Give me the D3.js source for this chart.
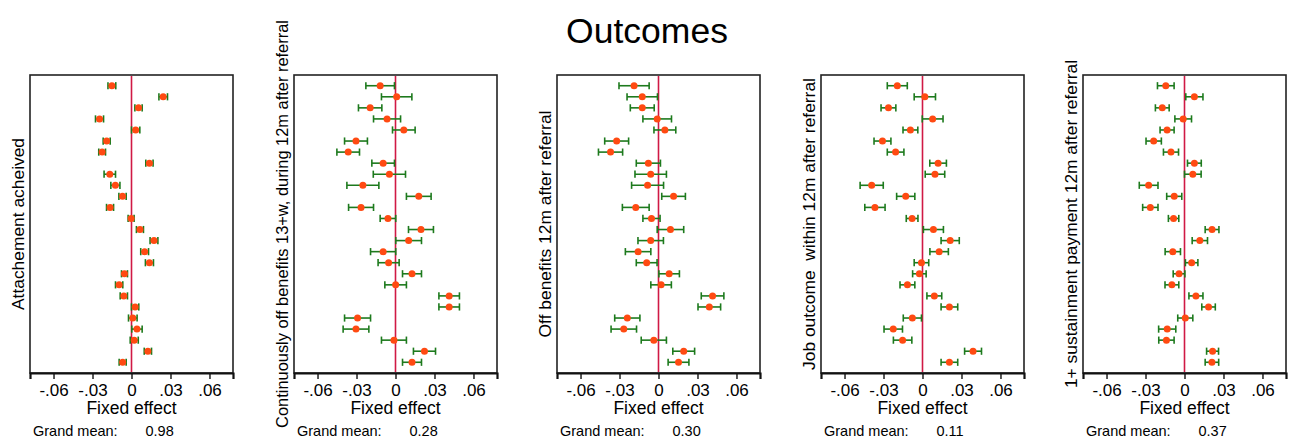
<!DOCTYPE html>
<html>
<head>
<meta charset="utf-8">
<script src="https://cdn.jsdelivr.net/npm/d3@7.9.0/dist/d3.min.js"></script>
<style>
  html, body { margin: 0; padding: 0; background: #fff; }
  svg { display: block; font-family: "Liberation Sans", Arial, sans-serif; }
</style>
</head>
<body>
<svg id="chart" width="1292" height="445"></svg>
<script>
// units in row order (top to bottom)
const units = d3.range(1, 27);

const outcomeTitles = [
  'Attachement acheived',
  'Continuously off benefits 13+w, during 12m after referral',
  'Off benefits 12m after referral',
  'Job outcome  within 12m after referral',
  '1+ sustainment payment 12m after referral'
];
const grandMeans = ['0.98', '0.28', '0.30', '0.11', '0.37'];
const xTicks = [-0.06, -0.03, 0, 0.03, 0.06];

// fixed effect estimates and CI half-widths, per outcome
const attachEst = [-0.0151, 0.0244, 0.0054, -0.0246, 0.0032, -0.0191, -0.0226, 0.0138, -0.0167, -0.0124, -0.0069, -0.0165, -0.0003,
  0.0065, 0.0173, 0.0101, 0.0138, -0.0054, -0.0095, -0.0059, 0.0028, 0.0010, 0.0042, 0.0021, 0.0126, -0.0068];
const attachHw = [0.0030, 0.0033, 0.0028, 0.0031, 0.0032, 0.0027, 0.0026, 0.0028, 0.0044, 0.0035, 0.0028, 0.0027, 0.0023,
  0.0027, 0.0030, 0.0030, 0.0031, 0.0023, 0.0028, 0.0028, 0.0028, 0.0033, 0.0040, 0.0031, 0.0028, 0.0027];

const contOffEst = [-0.0118, 0.0009, -0.0195, -0.0065, 0.0064, -0.0304, -0.0364, -0.0095, -0.0047, -0.0251, 0.0179, -0.0265, -0.0058,
  0.0196, 0.0101, -0.0095, -0.0053, 0.0127, 0.0001, 0.0413, 0.0413, -0.0292, -0.0304, -0.0012, 0.0223, 0.0127];
const contOffHw = [0.0110, 0.0117, 0.0090, 0.0104, 0.0087, 0.0088, 0.0087, 0.0087, 0.0124, 0.0123, 0.0095, 0.0096, 0.0060,
  0.0096, 0.0099, 0.0097, 0.0081, 0.0073, 0.0083, 0.0079, 0.0079, 0.0100, 0.0099, 0.0096, 0.0085, 0.0073];

const offBenEst = [-0.0188, -0.0125, -0.0125, -0.0010, 0.0049, -0.0322, -0.0369, -0.0078, -0.0060, -0.0084, 0.0116, -0.0175, -0.0054,
  0.0092, -0.0060, -0.0157, -0.0091, 0.0082, 0.0020, 0.0416, 0.0391, -0.0240, -0.0267, -0.0036, 0.0194, 0.0154];
const offBenHw = [0.0116, 0.0117, 0.0092, 0.0110, 0.0084, 0.0092, 0.0093, 0.0093, 0.0121, 0.0123, 0.0091, 0.0103, 0.0066,
  0.0102, 0.0098, 0.0098, 0.0080, 0.0079, 0.0079, 0.0087, 0.0087, 0.0097, 0.0098, 0.0097, 0.0084, 0.0080];

const jobEst = [-0.0194, 0.0018, -0.0262, 0.0078, -0.0093, -0.0308, -0.0207, 0.0120, 0.0096, -0.0391, -0.0129, -0.0366, -0.0080,
  0.0084, 0.0213, 0.0128, -0.0008, -0.0024, -0.0116, 0.0091, 0.0207, -0.0078, -0.0225, -0.0153, 0.0389, 0.0207];
const jobHw = [0.0077, 0.0082, 0.0057, 0.0080, 0.0057, 0.0065, 0.0064, 0.0064, 0.0075, 0.0089, 0.0070, 0.0078, 0.0045,
  0.0077, 0.0070, 0.0071, 0.0056, 0.0052, 0.0057, 0.0057, 0.0064, 0.0070, 0.0071, 0.0071, 0.0065, 0.0064];

const sustainEst = [-0.0144, 0.0076, -0.0171, -0.0010, -0.0134, -0.0237, -0.0104, 0.0076, 0.0064, -0.0276, -0.0079, -0.0263, -0.0084,
  0.0212, 0.0118, -0.0090, 0.0055, -0.0042, -0.0097, 0.0088, 0.0185, 0.0006, -0.0133, -0.0139, 0.0216, 0.0211];
const sustainHw = [0.0064, 0.0066, 0.0053, 0.0064, 0.0054, 0.0059, 0.0058, 0.0053, 0.0064, 0.0072, 0.0058, 0.0059, 0.0040,
  0.0053, 0.0059, 0.0059, 0.0048, 0.0045, 0.0053, 0.0054, 0.0052, 0.0058, 0.0066, 0.0059, 0.0046, 0.0052];

const estimates = [attachEst, contOffEst, offBenEst, jobEst, sustainEst];
const halfWidths = [attachHw, contOffHw, offBenHw, jobHw, sustainHw];

const svg = d3.select('#chart');
const boxTop = 75, boxBottom = 373, boxW = 203;
const panelLefts = [30, 294, 557, 821, 1083];

const fmtTick = (v) => v === 0 ? '0' : (v < 0 ? '-' : '') + d3.format('.2f')(Math.abs(v)).slice(1);

const y = d3.scalePoint()
  .domain(units)
  .range([boxTop, boxBottom])
  .padding(0.97);

svg.append('text')
  .attr('x', 647)
  .attr('y', 43)
  .attr('text-anchor', 'middle')
  .attr('font-size', 35.5)
  .attr('fill', '#000')
  .text('Outcomes');

outcomeTitles.forEach((title, i) => {
  const left = panelLefts[i];
  const x = d3.scaleLinear()
    .domain([-0.0781, 0.0781])
    .range([left, left + boxW]);

  const g = svg.append('g');

  g.append('rect')
    .attr('x', left)
    .attr('y', boxTop)
    .attr('width', boxW)
    .attr('height', boxBottom - boxTop)
    .attr('fill', 'none')
    .attr('stroke', '#222')
    .attr('stroke-width', 1.6);

  // x axis
  const axis = g.append('g')
    .attr('transform', `translate(0,${boxBottom})`)
    .call(d3.axisBottom(x).tickValues(xTicks).tickFormat(fmtTick).tickSize(6).tickPadding(5));
  axis.select('.domain').attr('stroke', '#111').attr('stroke-width', 2.2);
  axis.selectAll('.tick line').attr('stroke', '#111').attr('stroke-width', 1.4);
  axis.selectAll('.tick text')
    .attr('font-size', 17)
    .attr('font-family', '"Liberation Sans", Arial, sans-serif')
    .attr('fill', '#000');

  g.append('text')
    .attr('x', x(0))
    .attr('y', 414)
    .attr('text-anchor', 'middle')
    .attr('font-size', 17.5)
    .attr('fill', '#000')
    .text('Fixed effect');

  g.append('text')
    .attr('x', left + 3)
    .attr('y', 436)
    .attr('font-size', 14.5)
    .attr('fill', '#000')
    .text('Grand mean:');

  g.append('text')
    .attr('x', x(0) + 14)
    .attr('y', 436)
    .attr('font-size', 14.5)
    .attr('fill', '#000')
    .text(grandMeans[i]);

  // y title, pushed/shrunk to fit the graph height like Stata does
  const yt = g.append('text')
    .attr('font-size', 17.4)
    .attr('fill', '#000')
    .attr('text-anchor', 'middle')
    .style('white-space', 'pre')
    .text(title);
  let len = yt.node().getComputedTextLength();
  const maxLen = 408;
  if (len > maxLen) {
    yt.attr('font-size', 17.4 * maxLen / len);
    len = maxLen;
  }
  let cy = (boxTop + boxBottom) / 2;
  if (cy - len / 2 < 2) cy = 2 + len / 2;
  yt.attr('transform', `translate(${left - 6.5},${cy}) rotate(-90)`);

  // zero line
  g.append('line')
    .attr('x1', x(0)).attr('x2', x(0))
    .attr('y1', boxTop + 1).attr('y2', boxBottom - 1)
    .attr('stroke', '#d01945')
    .attr('stroke-width', 1.6);

  const rows = units.map((u, j) => ({ unit: u, est: estimates[i][j], hw: halfWidths[i][j] }));

  const ci = g.append('g')
    .attr('stroke', '#1d7a1d')
    .attr('stroke-width', 1.6)
    .attr('fill', 'none');

  rows.forEach((d) => {
    const cyRow = y(d.unit);
    ci.append('line')
      .attr('x1', x(d.est - d.hw)).attr('x2', x(d.est + d.hw))
      .attr('y1', cyRow).attr('y2', cyRow);
    ci.append('line')
      .attr('x1', x(d.est - d.hw)).attr('x2', x(d.est - d.hw))
      .attr('y1', cyRow - 3.6).attr('y2', cyRow + 3.6);
    ci.append('line')
      .attr('x1', x(d.est + d.hw)).attr('x2', x(d.est + d.hw))
      .attr('y1', cyRow - 3.6).attr('y2', cyRow + 3.6);
  });

  g.selectAll('circle.pt')
    .data(rows)
    .join('circle')
    .attr('class', 'pt')
    .attr('cx', (d) => x(d.est))
    .attr('cy', (d) => y(d.unit))
    .attr('r', 3.5)
    .attr('fill', '#ff4a12');
});
</script>
</body>
</html>
